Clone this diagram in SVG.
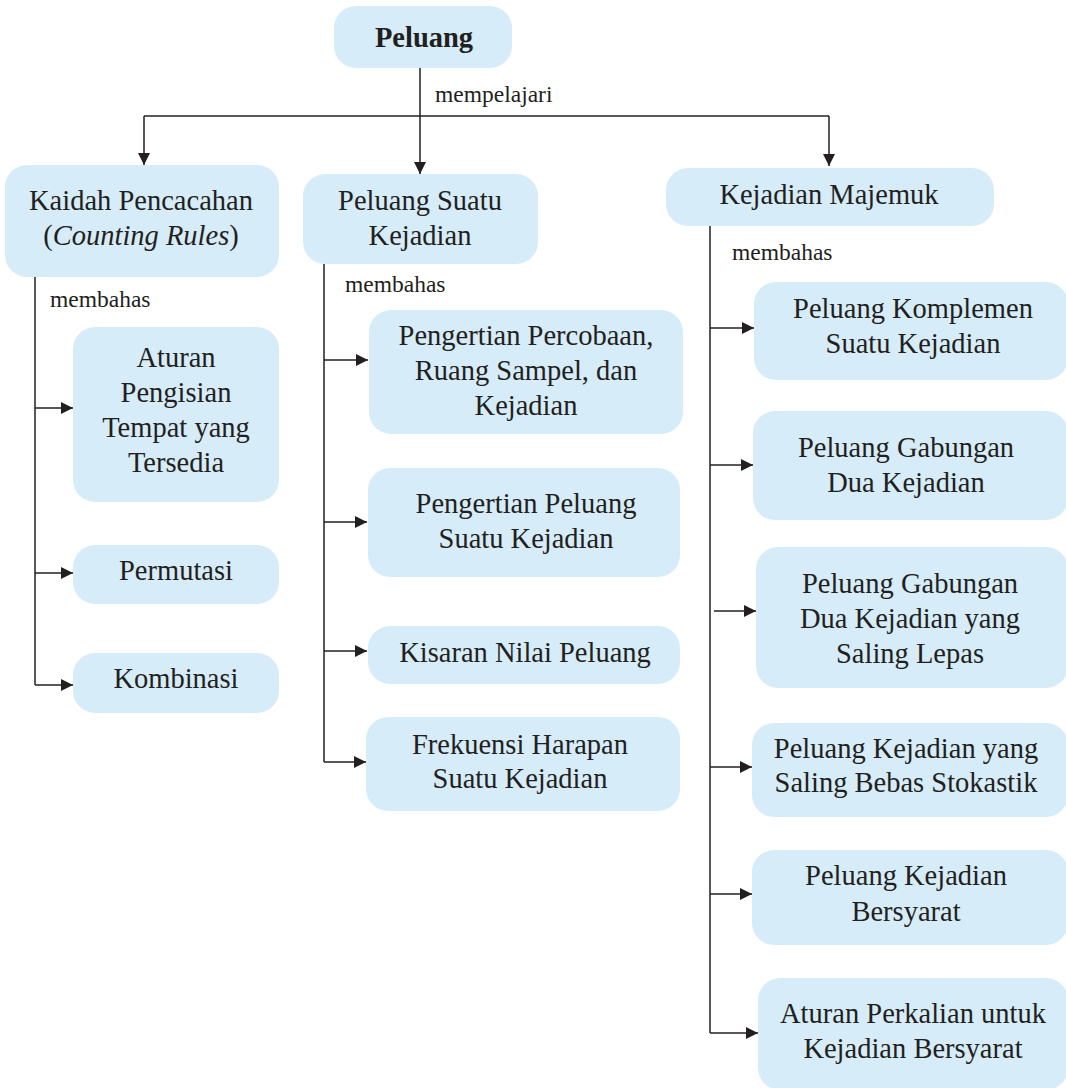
<svg xmlns="http://www.w3.org/2000/svg" width="1066" height="1088" viewBox="0 0 1066 1088">
<style>
.box{fill:#d6ecf9;}
.t{font-family:"Liberation Serif","Times New Roman",serif;font-size:28.5px;fill:#231f20;text-anchor:middle;}
.lbl{font-family:"Liberation Serif","Times New Roman",serif;font-size:23.5px;fill:#231f20;}
.ln{fill:none;stroke:#231f20;stroke-width:1.5;}
.ar{fill:none;stroke:#231f20;stroke-width:1.5;marker-end:url(#ah);}
</style>
<defs>
<marker id="ah" markerUnits="userSpaceOnUse" markerWidth="14" markerHeight="14" viewBox="0 0 14 14" refX="12" refY="7" orient="auto">
<path d="M0,1 L12,7 L0,13 Z" fill="#231f20"/>
</marker>
</defs>
<rect width="1066" height="1088" fill="#ffffff"/>
<g id="connectors">
<line class="ln" x1="420" y1="68" x2="420" y2="116"/>
<polyline class="ln" points="144,116 829,116"/>
<line class="ar" x1="144" y1="116" x2="144" y2="165"/>
<line class="ar" x1="420" y1="116" x2="420" y2="174"/>
<line class="ar" x1="829" y1="116" x2="829" y2="166"/>
<text class="lbl" x="435" y="102">mempelajari</text>
<line class="ln" x1="35" y1="277" x2="35" y2="685"/>
<line class="ar" x1="35" y1="408" x2="73" y2="408"/>
<line class="ar" x1="35" y1="573" x2="73" y2="573"/>
<line class="ar" x1="35" y1="685" x2="73" y2="685"/>
<text class="lbl" x="50" y="307">membahas</text>
<line class="ln" x1="324" y1="264" x2="324" y2="762"/>
<line class="ar" x1="324" y1="360" x2="368" y2="360"/>
<line class="ar" x1="324" y1="522" x2="367" y2="522"/>
<line class="ar" x1="324" y1="651" x2="367" y2="651"/>
<line class="ar" x1="324" y1="762" x2="366" y2="762"/>
<text class="lbl" x="345" y="292">membahas</text>
<line class="ln" x1="710" y1="226" x2="710" y2="1033"/>
<line class="ar" x1="710" y1="328" x2="754" y2="328"/>
<line class="ar" x1="710" y1="465" x2="753" y2="465"/>
<line class="ar" x1="714" y1="611" x2="756" y2="611"/>
<line class="ar" x1="710" y1="767" x2="752" y2="767"/>
<line class="ar" x1="710" y1="894" x2="752" y2="894"/>
<line class="ar" x1="710" y1="1033" x2="758" y2="1033"/>
<text class="lbl" x="732" y="260">membahas</text>
</g>
<g id="n-peluang">
<rect class="box" x="334" y="6" width="178" height="62" rx="22"/>
<text class="t" x="424" y="47" font-weight="bold">Peluang</text>
</g>
<g id="n-kaidah">
<rect class="box" x="5" y="165" width="274" height="112" rx="22"/>
<text class="t" x="141" y="210">Kaidah Pencacahan</text>
<text class="t" x="141" y="245">(<tspan font-style="italic">Counting Rules</tspan>)</text>
</g>
<g id="n-suatu">
<rect class="box" x="303" y="174" width="235" height="90" rx="22"/>
<text class="t" x="420" y="210">Peluang Suatu</text>
<text class="t" x="420" y="245">Kejadian</text>
</g>
<g id="n-majemuk">
<rect class="box" x="666" y="168" width="328" height="58" rx="22"/>
<text class="t" x="829" y="204">Kejadian Majemuk</text>
</g>
<g id="n-aturan">
<rect class="box" x="73" y="327" width="206" height="175" rx="22"/>
<text class="t" x="176" y="367">Aturan</text>
<text class="t" x="176" y="402">Pengisian</text>
<text class="t" x="176" y="437">Tempat yang</text>
<text class="t" x="176" y="472">Tersedia</text>
</g>
<g id="n-permutasi">
<rect class="box" x="73" y="545" width="206" height="59" rx="22"/>
<text class="t" x="176" y="580">Permutasi</text>
</g>
<g id="n-kombinasi">
<rect class="box" x="73" y="653" width="206" height="60" rx="22"/>
<text class="t" x="176" y="688">Kombinasi</text>
</g>
<g id="n-percobaan">
<rect class="box" x="369" y="310" width="314" height="124" rx="22"/>
<text class="t" x="526" y="345">Pengertian Percobaan,</text>
<text class="t" x="526" y="380">Ruang Sampel, dan</text>
<text class="t" x="526" y="415">Kejadian</text>
</g>
<g id="n-pengertian">
<rect class="box" x="368" y="468" width="312" height="109" rx="22"/>
<text class="t" x="526" y="513">Pengertian Peluang</text>
<text class="t" x="526" y="548">Suatu Kejadian</text>
</g>
<g id="n-kisaran">
<rect class="box" x="368" y="626" width="312" height="58" rx="22"/>
<text class="t" x="525" y="662">Kisaran Nilai Peluang</text>
</g>
<g id="n-frekuensi">
<rect class="box" x="366" y="717" width="314" height="94" rx="22"/>
<text class="t" x="520" y="754">Frekuensi Harapan</text>
<text class="t" x="520" y="788">Suatu Kejadian</text>
</g>
<g id="n-komplemen">
<rect class="box" x="754" y="282" width="314" height="98" rx="22"/>
<text class="t" x="913" y="318">Peluang Komplemen</text>
<text class="t" x="913" y="353">Suatu Kejadian</text>
</g>
<g id="n-gabungan">
<rect class="box" x="753" y="411" width="315" height="109" rx="22"/>
<text class="t" x="906" y="457">Peluang Gabungan</text>
<text class="t" x="906" y="492">Dua Kejadian</text>
</g>
<g id="n-lepas">
<rect class="box" x="756" y="547" width="312" height="141" rx="22"/>
<text class="t" x="910" y="593">Peluang Gabungan</text>
<text class="t" x="910" y="628">Dua Kejadian yang</text>
<text class="t" x="910" y="663">Saling Lepas</text>
</g>
<g id="n-bebas">
<rect class="box" x="752" y="723" width="316" height="94" rx="22"/>
<text class="t" x="906" y="758">Peluang Kejadian yang</text>
<text class="t" x="906" y="792">Saling Bebas Stokastik</text>
</g>
<g id="n-bersyarat">
<rect class="box" x="752" y="850" width="316" height="95" rx="22"/>
<text class="t" x="906" y="885">Peluang Kejadian</text>
<text class="t" x="906" y="921">Bersyarat</text>
</g>
<g id="n-perkalian">
<rect class="box" x="758" y="978" width="310" height="112" rx="22"/>
<text class="t" x="913" y="1023">Aturan Perkalian untuk</text>
<text class="t" x="913" y="1058">Kejadian Bersyarat</text>
</g>
</svg>
